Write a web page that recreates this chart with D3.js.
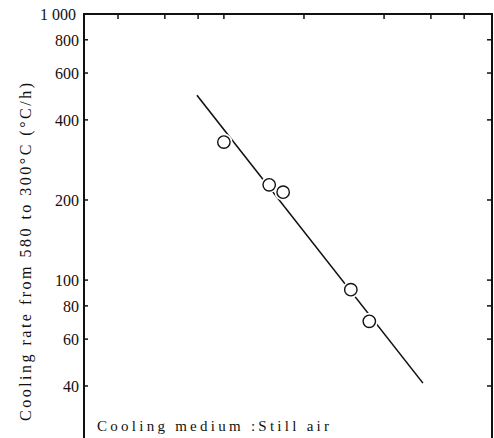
<!DOCTYPE html>
<html>
<head>
<meta charset="utf-8">
<script src="https://cdn.jsdelivr.net/npm/d3@7"></script>
<style>
  body { margin: 0; background: #fff; }
  svg { display: block; }
  text { font-family: "Liberation Serif", "DejaVu Serif", serif; fill: #111; }
</style>
</head>
<body>
<svg id="chart"></svg>
<script>
// measured points (x on a log scale, top ticks only; y cooling rate in °C/h)
const pointX = [5.0, 7.4, 8.35, 15.0, 17.6]
const pointY = [330, 228, 214, 92, 70]
// fitted line end points
const lineX = [3.96, 28.0]
const lineY = [495, 41]
const yTicks = [1000, 800, 600, 400, 200, 100, 80, 60, 40]
const yTickLabels = ["1 000", "800", "600", "400", "200", "100", "80", "60", "40"]
const xTicks = [2, 3, 4, 5, 10, 20, 30, 40]

const w = 494
const h = 438
const plotLeft = 84, plotRight = 492, plotTop = 14, plotBottom = 438

const x = d3.scaleLog().domain([1.49, 50.9]).range([plotLeft, plotRight])
const y = d3.scaleLog().domain([25.5, 1000]).range([plotBottom, plotTop])

const svg = d3.select("#chart").attr("width", w).attr("height", h)

// frame
svg.append("line")
    .attr("x1", plotLeft).attr("x2", plotRight).attr("y1", plotTop).attr("y2", plotTop)
    .attr("stroke", "#111").attr("stroke-width", 2)
svg.append("line")
    .attr("x1", plotLeft).attr("x2", plotLeft).attr("y1", plotTop - 1).attr("y2", h)
    .attr("stroke", "#111").attr("stroke-width", 2)
svg.append("line")
    .attr("x1", plotRight).attr("x2", plotRight).attr("y1", plotTop - 1).attr("y2", h)
    .attr("stroke", "#111").attr("stroke-width", 2)

// left axis ticks (inward) + labels
svg.selectAll(".ltick")
    .data(yTicks)
    .enter()
    .append("line")
    .attr("x1", plotLeft).attr("x2", plotLeft + 4)
    .attr("y1", d => y(d)).attr("y2", d => y(d))
    .attr("stroke", "#111").attr("stroke-width", 1.5)

svg.selectAll(".ylab")
    .data(yTicks)
    .enter()
    .append("text")
    .attr("x", d => d === 1000 ? plotLeft - 8 : plotLeft - 5)
    .attr("y", d => y(d))
    .attr("dy", "0.36em")
    .attr("text-anchor", "end")
    .style("font-size", "16px")
    .text((d, i) => yTickLabels[i])

// right axis ticks (inward)
svg.selectAll(".rtick")
    .data(yTicks)
    .enter()
    .append("line")
    .attr("x1", plotRight - 5).attr("x2", plotRight)
    .attr("y1", d => y(d)).attr("y2", d => y(d))
    .attr("stroke", "#111").attr("stroke-width", 1.5)

// top ticks (inward)
svg.selectAll(".ttick")
    .data(xTicks)
    .enter()
    .append("line")
    .attr("x1", d => x(d)).attr("x2", d => x(d))
    .attr("y1", plotTop).attr("y2", plotTop + 5)
    .attr("stroke", "#111").attr("stroke-width", 1.5)

// fitted line
svg.append("line")
    .attr("x1", x(lineX[0])).attr("y1", y(lineY[0]))
    .attr("x2", x(lineX[1])).attr("y2", y(lineY[1]))
    .attr("stroke", "#111").attr("stroke-width", 1.6)

// white halos break the line around the circles
const pts = pointX.map((v, i) => ({ x: v, y: pointY[i] }))
svg.selectAll(".halo")
    .data(pts)
    .enter()
    .append("circle")
    .attr("cx", d => x(d.x)).attr("cy", d => y(d.y))
    .attr("r", 8.5)
    .attr("fill", "#fff")

svg.selectAll(".pt")
    .data(pts)
    .enter()
    .append("circle")
    .attr("cx", d => x(d.x)).attr("cy", d => y(d.y))
    .attr("r", 6.2)
    .attr("fill", "#fff")
    .attr("stroke", "#111")
    .attr("stroke-width", 1.4)

// y label
svg.append("text")
    .attr("transform", `translate(31, 252) rotate(-90)`)
    .attr("text-anchor", "middle")
    .attr("textLength", 338)
    .attr("lengthAdjust", "spacing")
    .style("font-size", "16px")
    .text("Cooling rate from 580 to 300°C (°C/h)")

// note
svg.append("text")
    .attr("x", 97)
    .attr("y", 431)
    .attr("textLength", 232)
    .attr("lengthAdjust", "spacing")
    .style("font-size", "15px")
    .text("Cooling medium :Still air")
</script>
</body>
</html>
